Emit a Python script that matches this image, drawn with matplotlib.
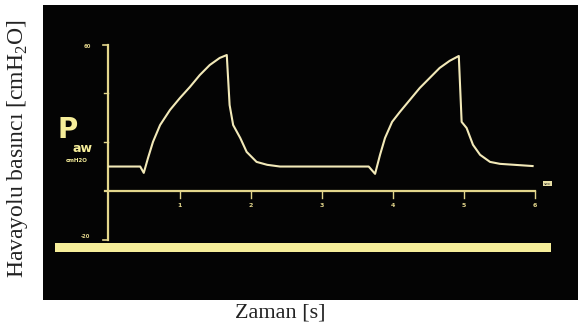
import matplotlib
matplotlib.use('Agg')
import matplotlib.pyplot as plt
import numpy as np

plt.rcParams['font.family'] = ['Liberation Serif', 'DejaVu Serif']
plt.rcParams['mathtext.fontset'] = 'custom'
plt.rcParams['mathtext.rm'] = 'Liberation Serif'

# airway pressure trace (t in s, P in cmH2O)
t = [0.0, 0.44, 0.49, 0.55, 0.62, 0.72, 0.86, 1.00, 1.14, 1.28, 1.42, 1.56,
     1.66, 1.70, 1.75, 1.85, 1.94, 2.08, 2.23, 2.41, 3.0, 3.66, 3.75, 3.82,
     3.89, 3.99, 4.10, 4.24, 4.38, 4.52, 4.66, 4.80, 4.93, 4.97, 5.04, 5.13,
     5.23, 5.37, 5.51, 5.97]
p = [10.0, 10.0, 7.4, 13.5, 20.1, 27.0, 33.2, 38.1, 42.6, 47.5, 51.6, 54.5,
     55.7, 35.2, 27.0, 21.7, 16.0, 11.9, 10.7, 10.0, 10.0, 10.0, 7.0, 14.8,
     21.7, 28.3, 32.4, 37.3, 42.2, 46.3, 50.4, 53.3, 55.3, 28.3, 25.8, 18.9,
     14.8, 11.9, 11.1, 10.2]

sec_ticks = [1, 2, 3, 4, 5, 6]
sec_labels = ['1', '2', '3', '4', '5', '6']
p_ticks = [20, 40]
p_top, p_bot = 60, -20

trace_col = '#f2e9b8'
axis_col = '#e3d68c'
bar_col = '#f6ee9a'

fig = plt.figure(figsize=(5.78, 3.29), dpi=100)
ax = fig.add_axes([43/578, 1-300/329, 1-43/578, 295/329])
ax.set_facecolor('#040404')
ax.set_xlim(-0.93, 6.61)
ax.set_ylim(-44.7, 76.2)
ax.set_xticks([])
ax.set_yticks([])
for s in ax.spines.values():
    s.set_visible(False)

# screen axes
ax.plot([-0.01, -0.01], [p_bot, p_top], color=axis_col, lw=1.6)
ax.plot([-0.08, -0.01], [p_top, p_top], color=axis_col, lw=1.2)
ax.plot([-0.08, -0.01], [p_bot, p_bot], color=axis_col, lw=1.2)
for v in p_ticks:
    ax.plot([-0.07, -0.01], [v, v], color=axis_col, lw=1.0)
ax.plot([-0.05, 6.0], [0, 0], color=axis_col, lw=1.6)
for v, lab in zip(sec_ticks, sec_labels):
    ax.plot([v, v], [0, -2.8], color=axis_col, lw=1.0)
    ax.text(v, -6, lab, color=axis_col, fontsize=4.5, ha='center', va='center',
            family='DejaVu Sans', fontweight='bold')
ax.text(-0.3, 59, '60', color=axis_col, fontsize=3.8, ha='center', va='center',
        family='DejaVu Sans', fontweight='bold')
ax.text(-0.33, -18.5, '-20', color=axis_col, fontsize=3.8, ha='center', va='center',
        family='DejaVu Sans', fontweight='bold')
ax.text(6.18, 3, 'sec', color='#222222', fontsize=3.2, ha='center', va='center',
        family='DejaVu Sans',
        bbox=dict(boxstyle='square,pad=0.15', fc='#e8dfa5', ec='none'))

# Paw label
ax.text(-0.58, 25, 'P', color=bar_col, fontsize=20, fontweight='bold',
        ha='center', va='center', family='DejaVu Sans Condensed')
ax.text(-0.38, 17.3, 'aw', color=bar_col, fontsize=9, fontweight='bold',
        ha='center', va='center', family='DejaVu Sans Condensed')
ax.text(-0.46, 12.5, 'cmH2O', color=bar_col, fontsize=4, fontweight='bold',
        ha='center', va='center', family='DejaVu Sans Condensed')

# pressure waveform
ax.plot(t, p, color=trace_col, lw=1.5, solid_joinstyle='round')

# thick bottom bar of the screen
ax.fill_between([-0.76, 6.23], -25.0, -21.4, color=bar_col, lw=0)

fig.text(18/578, 1-149/329, r'Havayolu basıncı [cmH$_2$O]', rotation=90,
         ha='center', va='center', fontsize=17, color='#222222')
fig.text(280/578, 1-313/329, 'Zaman [s]', ha='center', va='center',
         fontsize=16, color='#222222')

fig.savefig('out.png', dpi=100)
